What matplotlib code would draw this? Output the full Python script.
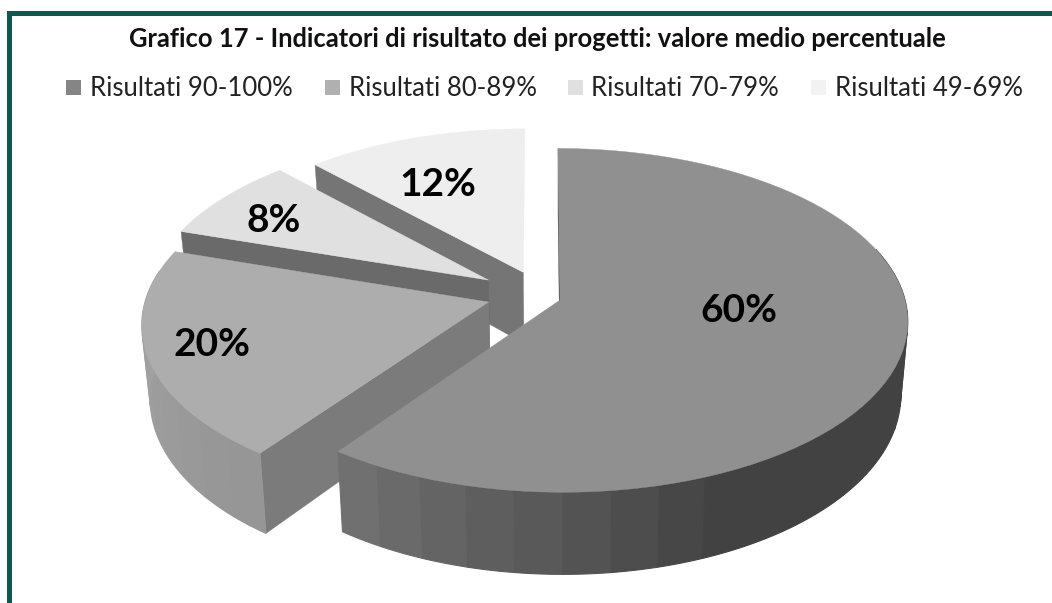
import numpy as np
from matplotlib import pyplot as plt
from matplotlib.patches import Rectangle

title = "Grafico 17 - Indicatori di risultato dei progetti: valore medio percentuale"
legend_labels = ["Risultati 90-100%", "Risultati 80-89%", "Risultati 70-79%", "Risultati 49-69%"]
values = [60, 20, 8, 12]

# look of the slices
top_greys = [0x90, 0xad, 0xe0, 0xee]
swatch_greys = [0x85, 0xb0, 0xe0, 0xf2]
cut_greys = [0x55, 0x7b, 0x6a, 0x75]
arc_greys_start = [0x76, 0x96, 0xa0, 0xa0]
arc_greys_end = [0x42, 0xa4, 0xa0, 0xa0]
arc_fade = [65, 60, 30, 30]  # degrees of arc over which the shade moves

# pixel layout
apex_px = [(560, 300), (489, 302), (488, 280), (523, 272)]
radius = [0.98, 0.975, 0.97, 0.96]
label_px = [(739, 311), (212, 345), (274, 221), (438, 184)]
legend_swatch_x = [66, 325, 568, 811]
legend_text_x = [90, 349, 591, 835]

cx, cy = 540, 292
rx, ry = 350, 171
persp = 0.12
depth = 72
shrink = 0.02
band = 7.0
first_visible = 78  # curved wall outside these angles is out of sight
last_visible = 275


def project(X, Y, low):
    s = 1 / (1 + persp * Y)
    x = cx + rx * X * s
    y = cy - ry * Y * s + low * depth * s
    x = 560 + (x - 560) * (1 - shrink * low)
    return x, y


def grey(v):
    return "#%02x%02x%02x" % (int(v), int(v), int(v))


fig = plt.figure(figsize=(10.52, 6.03), dpi=100)
ax = fig.add_axes([0, 0, 1, 1])
ax.set_xlim(0, 1052)
ax.set_ylim(603, 0)
ax.axis("off")

# frame
ax.add_patch(Rectangle((7, 11), 1045, 5, color="#0b5a4e", lw=0))
ax.add_patch(Rectangle((7, 11), 5, 592, color="#0b5a4e", lw=0))

ax.text(537, 39, title, ha="center", va="center", family="Lato", weight="bold", fontsize=18.4, color="#111111")

for i, lab in enumerate(legend_labels):
    ax.add_patch(Rectangle((legend_swatch_x[i], 80), 15, 15, color=grey(swatch_greys[i]), lw=0))
    ax.text(legend_text_x[i], 88, lab, ha="left", va="center", family="Lato", fontsize=18.5, color="#222222")

starts = 360 * np.cumsum([0] + values[:-1]) / sum(values)
sweeps = 360 * np.array(values) / sum(values)

# back slices first so the front ones cover them
for i in [3, 2, 1, 0]:
    ax_x = (apex_px[i][0] - cx) / rx
    ax_y = (cy - apex_px[i][1]) / ry
    th = np.linspace(starts[i], starts[i] + sweeps[i], 80)
    X = ax_x + radius[i] * np.sin(np.radians(th))
    Y = ax_y + radius[i] * np.cos(np.radians(th))

    # wall of the cut
    xa, ya = project(ax_x, ax_y, 0)
    xb, yb = project(ax_x, ax_y, 1)
    xc, yc = project(X[0], Y[0], 1)
    xd, yd = project(X[0], Y[0], 0)
    ax.fill([xa, xb, xc, xd], [ya, yb, yc, yd], color=grey(cut_greys[i]), lw=0.3)

    # curved wall, in flat bands
    n_bands = max(int(sweeps[i] / band), 1)
    edges = np.linspace(starts[i], starts[i] + sweeps[i], n_bands + 1)
    order = range(n_bands) if i != 0 else range(n_bands - 1, -1, -1)
    for b in order:
        if edges[b] > last_visible or edges[b + 1] < first_visible:
            continue
        t = np.linspace(edges[b], edges[b + 1], 8)
        bx = ax_x + radius[i] * np.sin(np.radians(t))
        by = ax_y + radius[i] * np.cos(np.radians(t))
        x_hi, y_hi = project(bx, by, 0)
        x_lo, y_lo = project(bx, by, 1)
        # shade depends on the distance from the slice's front end
        ref = starts[i] + sweeps[i] if i == 0 else starts[i]
        dist = abs(edges[b] - ref)
        f = min(dist / arc_fade[i], 1)
        g = arc_greys_start[i] + (arc_greys_end[i] - arc_greys_start[i]) * f
        ax.fill(np.r_[x_hi, x_lo[::-1]], np.r_[y_hi, y_lo[::-1]], color=grey(g), lw=0.8)

    # top face
    x_top, y_top = project(X, Y, 0)
    ax.fill(np.r_[xa, x_top], np.r_[ya, y_top], color=grey(top_greys[i]), lw=0.3)

for i, v in enumerate(values):
    ax.text(label_px[i][0], label_px[i][1], f"{v}%", ha="center", va="center", family="Lato", weight="bold", fontsize=28, color="black")

plt.savefig("out.png", dpi=100)
